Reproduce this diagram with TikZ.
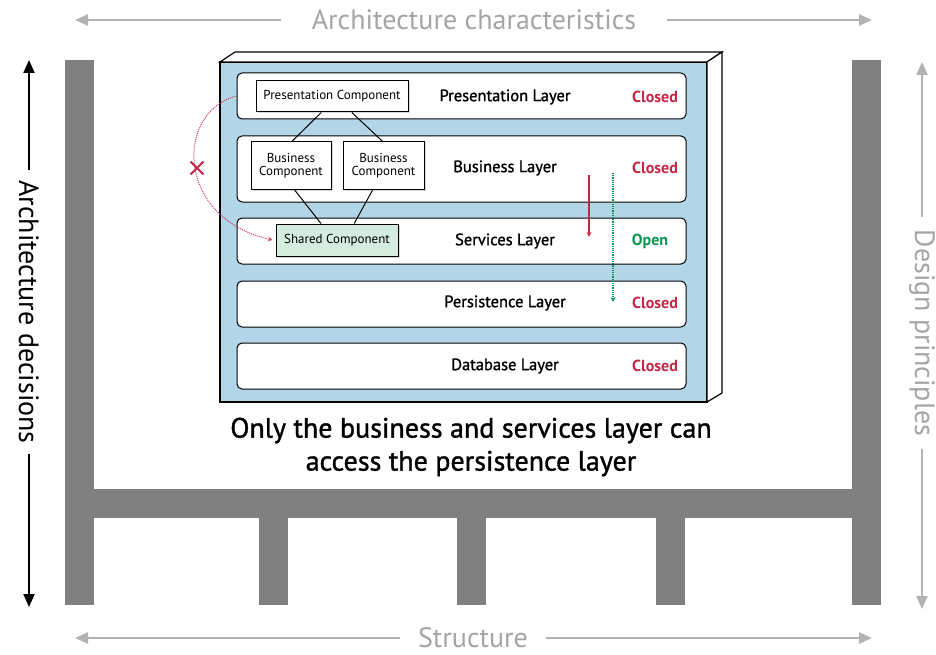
\documentclass[tikz,border=0pt]{standalone}
\usepackage{fontspec}
\setmainfont{PT Sans}
\newfontfamily\heavyfont{PT Sans}[FakeBold=1.2]
\usepackage{xcolor}
\usepackage{tikz}
\usetikzlibrary{calc}
\usetikzlibrary{positioning, backgrounds}
\usetikzlibrary{arrows, arrows.meta, shapes, shadows}
\tikzset{
	layer/.style={draw=black, fill=white, rounded corners=5pt, line width=1pt, minimum width=449pt, minimum height=46pt, inner sep=0pt},
	component/.style={draw=black, fill=white, line width=1pt, inner sep=0pt, align=center, font=\fontsize{13}{12.5}\selectfont, drop shadow={shadow xshift=1.5pt, shadow yshift=-1.5pt, fill=gray!60}},
	layername/.style={font=\heavyfont\fontsize{16.5}{16}\selectfont},
	closed/.style={text=ClosedRed, font=\fontsize{16}{16}\selectfont\bfseries},
	open/.style={text=OpenGreen, font=\fontsize{16}{16}\selectfont\bfseries},
	sidelabel/.style={text=LabelGray, font=\fontsize{28}{28}\selectfont, inner xsep=0pt, inner ysep=0pt},
	grayarrow/.style={draw=ArrowGray, line width=2.5pt, -{Triangle[length=13pt, width=11pt]}},
	blackarrow/.style={draw=black, line width=2pt, -{Triangle[length=13pt, width=11pt]}},
}
\definecolor{LayerBlue}{RGB}{178, 213, 231}
\definecolor{StructGray}{RGB}{128, 128, 128}
\definecolor{LabelGray}{RGB}{165, 165, 165}
\definecolor{ArrowGray}{RGB}{178, 178, 178}
\definecolor{ClosedRed}{RGB}{196, 38, 70}
\definecolor{OpenGreen}{RGB}{10, 150, 80}
\definecolor{SharedGreen}{RGB}{212, 236, 221}
\definecolor{NoPathRed}{RGB}{200, 60, 90}

\begin{document}
\begin{tikzpicture}[x=1pt, y=-1pt]
		\useasboundingbox (0,0) rectangle (936,655);
		\fill[white] (0,0) rectangle (936,655);

		% the structure
		\fill[StructGray] (65,60) rectangle (94,605);
		\fill[StructGray] (852,60) rectangle (881,605);
		\fill[StructGray] (65,489) rectangle (881,518);
		\foreach \x in {259,457,656}
		\fill[StructGray] (\x,518) rectangle (\x+29,605);

		% the four sides
		\node[sidelabel] (charact) at (474,20) {Architecture characteristics};
		\coordinate (charleft) at (75,20);
		\coordinate (charright) at (872,20);
		\draw[grayarrow, shorten <=31pt] (charact.west) -- (charleft);
		\draw[grayarrow, shorten <=31pt] (charact.east) -- (charright);

		\node[sidelabel] (struct) at (473,638) {Structure};
		\coordinate (structleft) at (75,638);
		\coordinate (structright) at (872,638);
		\draw[grayarrow, shorten <=18pt] (struct.west) -- (structleft);
		\draw[grayarrow, shorten <=18pt] (struct.east) -- (structright);

		\node[sidelabel, text=black, rotate=-90] (decis) at (29,312) {Architecture decisions};
		\coordinate (decistop) at (29,60);
		\coordinate (decisbottom) at (29,607);
		\draw[blackarrow, shorten <=10pt] (decis.west) -- (decistop);
		\draw[blackarrow, shorten <=10pt] (decis.east) -- (decisbottom);

		\node[sidelabel, rotate=-90] (princ) at (922,333) {Design principles};
		\coordinate (princtop) at (922,62);
		\coordinate (princbottom) at (922,609);
		\draw[grayarrow, shorten <=12pt] (princ.west) -- (princtop);
		\draw[grayarrow, shorten <=12pt] (princ.east) -- (princbottom);

		% the layered box
		\filldraw[fill=LayerBlue, draw=black, line width=1.2pt] (220,62) rectangle (707,402);
		\filldraw[fill=white, draw=black, line width=1.2pt] (220,62) -- (235,52) -- (722,52) -- (707,62) -- cycle;
		\filldraw[fill=white, draw=black, line width=1.2pt] (707,62) -- (722,52) -- (722,393) -- (707,402) -- cycle;

		\node[layer] (preslayer) at (461.5,96) {};
		\node[layer, minimum height=66pt] (busilayer) at (461.5,169) {};
		\node[layer] (servlayer) at (461.5,241) {};
		\node[layer] (perslayer) at (461.5,304) {};
		\node[layer] (datalayer) at (461.5,366) {};

		\node[layername] (presname) at (505,97) {Presentation Layer};
		\node[layername] (businame) at (505,168) {Business Layer};
		\node[layername] (servname) at (505,241) {Services Layer};
		\node[layername] (persname) at (505,303) {Persistence Layer};
		\node[layername] (dataname) at (505,366) {Database Layer};

		\node[closed] (presstate) at (655,97) {Closed};
		\node[closed] (busistate) at (655,168) {Closed};
		\node[open] (servstate) at (650,241) {Open};
		\node[closed] (persstate) at (655,303) {Closed};
		\node[closed] (datastate) at (655,366) {Closed};

		% components
		\node[component, minimum width=152pt, minimum height=31pt] (prescomp) at (332,96.5) {Presentation Component};
		\node[component, minimum width=80pt, minimum height=47pt] (busicompa) at (291,165.5) {Business\\Component};
		\node[component, minimum width=81pt, minimum height=47pt] (busicompb) at (383.5,165.5) {Business\\Component};
		\node[component, fill=SharedGreen, minimum width=122pt, minimum height=32pt] (sharedcomp) at (337,240) {Shared Component};

		\draw[line width=1pt] ($(prescomp.south west)!0.43!(prescomp.south east)$) -- ($(busicompa.north west)!0.51!(busicompa.north east)$);
		\draw[line width=1pt] ($(prescomp.south west)!0.63!(prescomp.south east)$) -- ($(busicompb.north west)!0.49!(busicompb.north east)$);
		\draw[line width=1pt] ($(busicompa.south west)!0.54!(busicompa.south east)$) -- ($(sharedcomp.north west)!0.37!(sharedcomp.north east)$);
		\draw[line width=1pt] ($(busicompb.south west)!0.37!(busicompb.south east)$) -- ($(sharedcomp.north west)!0.64!(sharedcomp.north east)$);

		% closed layer: no direct path
		\draw[NoPathRed, densely dotted, line width=1pt, -stealth] (preslayer.west) .. controls (175,112) and (175,218) .. ($(sharedcomp.west)+(-3,0)$);
		\node[cross out, draw=ClosedRed, line width=1.8pt, minimum size=11pt] (nopass) at (197,168) {};

		% requests going down
		\coordinate (redtop) at (589,175);
		\coordinate (redend) at (589,237);
		\draw[ClosedRed, line width=1.2pt, -stealth] (redtop) -- (redend);
		\coordinate (greentop) at (613,173);
		\coordinate (greenend) at (613,302);
		\draw[OpenGreen, densely dotted, line width=1.2pt, -stealth] (greentop) -- (greenend);

		% caption
		\node[font=\heavyfont\fontsize{28}{33}\selectfont, align=center] (caption) at (471,447) {Only the business and services layer can\\access the persistence layer};
	\end{tikzpicture}
\end{document}
